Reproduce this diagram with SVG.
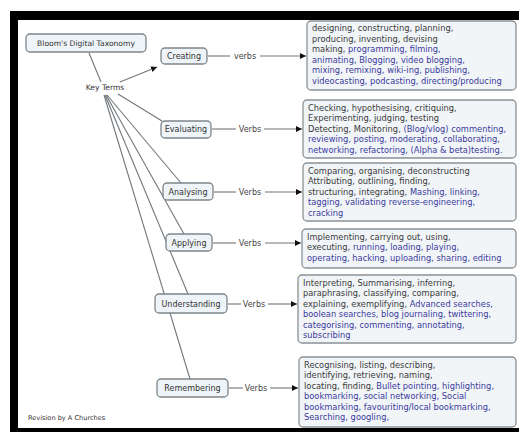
<svg xmlns="http://www.w3.org/2000/svg" width="519" height="432" viewBox="0 0 519 432">
<style>
.node rect{fill:#eef4f7;stroke:#7d858a;stroke-width:1.3}
.node text{font-family:"DejaVu Sans",Verdana,sans-serif;font-size:8px;fill:#333;text-anchor:middle}
.vbox rect{fill:#f1f5f8;stroke:#8a9196;stroke-width:1.3}
.vbox text{font-family:"DejaVu Sans",Verdana,sans-serif;font-size:8.3px;fill:#3a3a3a}
.vbox .b{fill:#3b3b9c}
.plain{font-family:"DejaVu Sans",Verdana,sans-serif;fill:#333}
.lbl{font-family:"DejaVu Sans",Verdana,sans-serif;font-size:8px;fill:#444;text-anchor:middle}
.conn line{stroke:#6f767a;stroke-width:1.1}
</style>
<defs>
<marker id="ah" markerWidth="7" markerHeight="7" refX="6" refY="3" orient="auto" markerUnits="userSpaceOnUse">
<path d="M0,0 L6,3 L0,6 z" fill="#111"/>
</marker>
</defs>
<rect x="10" y="11" width="509" height="421" fill="#000"/>
<rect x="18" y="20" width="501" height="408" fill="#fff"/>

<g id="connectors" class="conn">
<line x1="89" y1="53" x2="101" y2="82"/>
<line x1="120" y1="82" x2="157" y2="67" marker-end="url(#ah)"/>
<line x1="118" y1="94" x2="162" y2="121"/>
<line x1="107" y1="95" x2="181" y2="183"/>
<line x1="106" y1="95" x2="184" y2="234"/>
<line x1="105" y1="95" x2="188" y2="294"/>
<line x1="104" y1="95" x2="190" y2="379"/>
<line x1="208" y1="56" x2="230" y2="56"/>
<line x1="260" y1="56" x2="306" y2="56" marker-end="url(#ah)"/>
<line x1="212" y1="129" x2="236" y2="129"/>
<line x1="264" y1="129" x2="302" y2="129" marker-end="url(#ah)"/>
<line x1="214" y1="192" x2="236" y2="192"/>
<line x1="265" y1="192" x2="302" y2="192" marker-end="url(#ah)"/>
<line x1="213" y1="243" x2="236" y2="243"/>
<line x1="265" y1="243" x2="301" y2="243" marker-end="url(#ah)"/>
<line x1="228" y1="304" x2="241" y2="304"/>
<line x1="268" y1="304" x2="297" y2="304" marker-end="url(#ah)"/>
<line x1="229" y1="388" x2="243" y2="388"/>
<line x1="270" y1="388" x2="298" y2="388" marker-end="url(#ah)"/>
<text class="lbl" x="245" y="59">verbs</text>
<text class="lbl" x="250" y="132">Verbs</text>
<text class="lbl" x="250" y="195">Verbs</text>
<text class="lbl" x="250" y="246">Verbs</text>
<text class="lbl" x="254" y="307">Verbs</text>
<text class="lbl" x="256" y="391">Verbs</text>
</g>

<g id="bloom" class="node"><rect x="26" y="34" width="120" height="18" rx="4"/><text x="86" y="46" style="font-size:7.6px">Bloom's Digital Taxonomy</text></g>
<g id="keyterms"><text class="plain" x="105" y="90" font-size="7.6" text-anchor="middle">Key Terms</text></g>
<g id="creating" class="node"><rect x="161" y="48" width="46" height="16" rx="4"/><text x="184" y="59">Creating</text></g>
<g id="evaluating" class="node"><rect x="161" y="121" width="50" height="17" rx="4"/><text x="186" y="132">Evaluating</text></g>
<g id="analysing" class="node"><rect x="163" y="183" width="50" height="17" rx="4"/><text x="188" y="195">Analysing</text></g>
<g id="applying" class="node"><rect x="166" y="234" width="46" height="17" rx="4"/><text x="189" y="246">Applying</text></g>
<g id="understanding" class="node"><rect x="155" y="294" width="72" height="19" rx="4"/><text x="191" y="307">Understanding</text></g>
<g id="remembering" class="node"><rect x="157" y="379" width="71" height="18" rx="4"/><text x="192.5" y="391">Remembering</text></g>

<g id="creating-verbs" class="vbox"><rect x="307" y="21" width="209" height="69" rx="4"/>
<text x="312" y="31">designing, constructing, planning,</text>
<text x="312" y="41.5">producing, inventing, devising</text>
<text x="312" y="52">making, <tspan class="b">programming, filming,</tspan></text>
<text x="312" y="62.5" class="b">animating, Blogging, video blogging,</text>
<text x="312" y="73" class="b">mixing, remixing, wiki-ing, publishing,</text>
<text x="312" y="83.5" class="b">videocasting, podcasting, directing/producing</text>
</g>
<g id="evaluating-verbs" class="vbox"><rect x="303" y="100" width="213" height="58" rx="4"/>
<text x="308" y="110.5">Checking, hypothesising, critiquing,</text>
<text x="308" y="121">Experimenting, judging, testing</text>
<text x="308" y="131.5">Detecting, Monitoring, <tspan class="b">(Blog/vlog) commenting,</tspan></text>
<text x="308" y="142" class="b">reviewing, posting, moderating, collaborating,</text>
<text x="308" y="152.5" class="b">networking, refactoring, (Alpha &amp; beta)testing.</text>
</g>
<g id="analysing-verbs" class="vbox"><rect x="303" y="163" width="213" height="58" rx="4"/>
<text x="308" y="173.5">Comparing, organising, deconstructing</text>
<text x="308" y="184">Attributing, outlining, finding,</text>
<text x="308" y="194.5">structuring, integrating, <tspan class="b">Mashing, linking,</tspan></text>
<text x="308" y="205" class="b">tagging, validating reverse-engineering,</text>
<text x="308" y="215.5" class="b">cracking</text>
</g>
<g id="applying-verbs" class="vbox"><rect x="302" y="229" width="214" height="39" rx="4"/>
<text x="307" y="239.5">Implementing, carrying out, using,</text>
<text x="307" y="250">executing, <tspan class="b">running, loading, playing,</tspan></text>
<text x="307" y="260.5" class="b">operating, hacking, uploading, sharing, editing</text>
</g>
<g id="understanding-verbs" class="vbox"><rect x="298" y="275" width="218" height="68" rx="4"/>
<text x="303" y="285.5">Interpreting, Summarising, inferring,</text>
<text x="303" y="296">paraphrasing, classifying, comparing,</text>
<text x="303" y="306.5">explaining, exemplifying, <tspan class="b">Advanced searches,</tspan></text>
<text x="303" y="317" class="b">boolean searches, blog journaling, twittering,</text>
<text x="303" y="327.5" class="b">categorising, commenting, annotating,</text>
<text x="303" y="338" class="b">subscribing</text>
</g>
<g id="remembering-verbs" class="vbox"><rect x="299" y="357" width="217" height="70" rx="4"/>
<text x="304" y="367.5">Recognising, listing, describing,</text>
<text x="304" y="378">identifying, retrieving, naming,</text>
<text x="304" y="388.5">locating, finding, <tspan class="b">Bullet pointing, highlighting,</tspan></text>
<text x="304" y="399" class="b">bookmarking, social networking, Social</text>
<text x="304" y="409.5" class="b">bookmarking, favouriting/local bookmarking,</text>
<text x="304" y="420" class="b">Searching, googling,</text>
</g>

<text class="plain" x="28" y="420" font-size="6.6">Revision by A Churches</text>
</svg>
